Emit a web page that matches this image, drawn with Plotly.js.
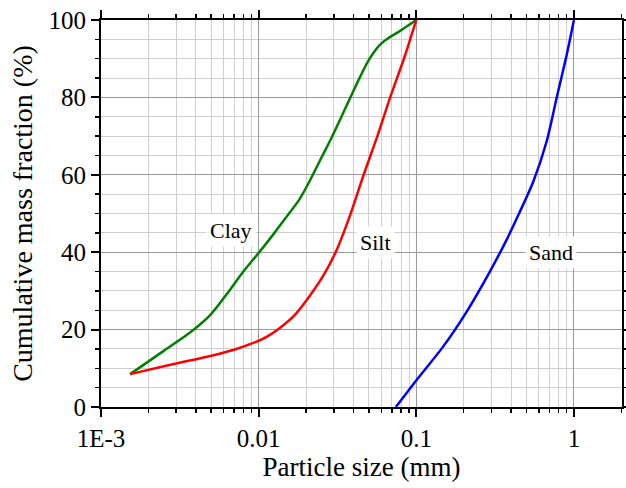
<!DOCTYPE html>
<html><head><meta charset="utf-8">
<script src="https://cdn.plot.ly/plotly-3.0.1.min.js"></script>
<style>html,body{margin:0;padding:0;background:#fff}#chart{width:626px;height:488px}</style>
</head><body><div id="chart"></div>
<script>
const claySize = [0.00153, 0.0025, 0.00385, 0.00494, 0.0065, 0.008, 0.01, 0.0125, 0.01449, 0.0181, 0.0204, 0.025, 0.0288, 0.0335, 0.0386, 0.044, 0.0492, 0.055, 0.0599, 0.067, 0.0763, 0.1];
const clayFrac = [8.5, 14.5, 19.9, 23.8, 30.0, 35.0, 39.8, 44.8, 48.3, 53.6, 57.3, 64.4, 69.3, 75.0, 80.4, 85.3, 89.2, 92.2, 93.9, 95.4, 96.8, 100];
const siltSize = [0.00153, 0.00289, 0.00494, 0.00697, 0.0089, 0.0113, 0.0135, 0.0168, 0.0209, 0.0261, 0.0312, 0.0376, 0.0459, 0.057, 0.0683, 0.0843, 0.1];
const siltFrac = [8.5, 11.1, 13.2, 14.8, 16.3, 18.2, 20.3, 23.6, 28.5, 34.4, 40.5, 49.0, 59.5, 70.3, 80.0, 90.5, 100];
const sandSize = [0.0742, 0.1005, 0.148, 0.2085, 0.293, 0.374, 0.444, 0.552, 0.671, 0.776, 0.900, 1.0];
const sandFrac = [0, 7.0, 15.6, 24.6, 35.0, 43.2, 49.6, 58.2, 68.6, 79.8, 91.0, 100];
const xTickVals = [0.001, 0.01, 0.1, 1];
const xTickText = ['1E-3', '0.01', '0.1', '1'];
const labels = [
  {text: 'Clay', x: 0.00668, y: 45.7},
  {text: 'Silt', x: 0.0555, y: 42.6},
  {text: 'Sand', x: 0.719, y: 39.8}
];

const minorX = [];
for (let e = -3; e <= 0; e++) for (let d = 2; d <= 9; d++) minorX.push(d * Math.pow(10, e));

const FAM = 'Liberation Serif';
const mk = (x, y, c) => ({x, y, type: 'scatter', mode: 'lines', line: {color: c, width: 2.5, shape: 'spline', smoothing: 0.8}, hoverinfo: 'skip'});
const data = [mk(claySize, clayFrac, '#008000'), mk(siltSize, siltFrac, '#ff0000'), mk(sandSize, sandFrac, '#0000ff')];

const layout = {
  width: 626, height: 488,
  margin: {l: 101, r: 4, t: 20, b: 81},
  paper_bgcolor: '#fff', plot_bgcolor: '#fff',
  showlegend: false,
  font: {family: FAM, color: '#000', size: 22},
  xaxis: {
    type: 'log', range: [-3, 0.305],
    tickmode: 'array', tickvals: xTickVals, ticktext: xTickText,
    ticks: 'outside', ticklen: 8, tickwidth: 2, tickcolor: '#000',
    showline: true, linecolor: '#000', linewidth: 2, mirror: 'allticks',
    showgrid: true, gridcolor: '#9a9a9a', gridwidth: 1,
    zeroline: false,
    tickfont: {family: FAM, size: 25, color: '#000'},
    title: {text: 'Particle size (mm)', font: {family: FAM, size: 27, color: '#000'}, standoff: 6},
    minor: {tickmode: 'array', tickvals: minorX, ticks: 'outside', ticklen: 4, tickwidth: 1.5, tickcolor: '#000', showgrid: true, gridcolor: '#cfcfcf', gridwidth: 1}
  },
  yaxis: {
    range: [0, 100], dtick: 20, tick0: 0,
    ticks: 'outside', ticklen: 8, tickwidth: 2, tickcolor: '#000',
    showline: true, linecolor: '#000', linewidth: 2, mirror: 'allticks',
    showgrid: true, gridcolor: '#9a9a9a', gridwidth: 1,
    zeroline: false,
    tickfont: {family: FAM, size: 25, color: '#000'},
    title: {text: 'Cumulative mass fraction (%)', font: {family: FAM, size: 28, color: '#000'}, standoff: 8},
    minor: {dtick: 5, ticks: 'outside', ticklen: 4, tickwidth: 1.5, tickcolor: '#000', showgrid: true, gridcolor: '#cfcfcf', gridwidth: 1}
  },
  annotations: labels.map(l => ({
    text: l.text, x: Math.log10(l.x), y: l.y, xref: 'x', yref: 'y',
    showarrow: false, bgcolor: '#fff', borderpad: 3,
    font: {family: FAM, size: 22, color: '#000'}
  }))
};
Plotly.newPlot('chart', data, layout, {displayModeBar: false, staticPlot: true});
</script></body></html>
